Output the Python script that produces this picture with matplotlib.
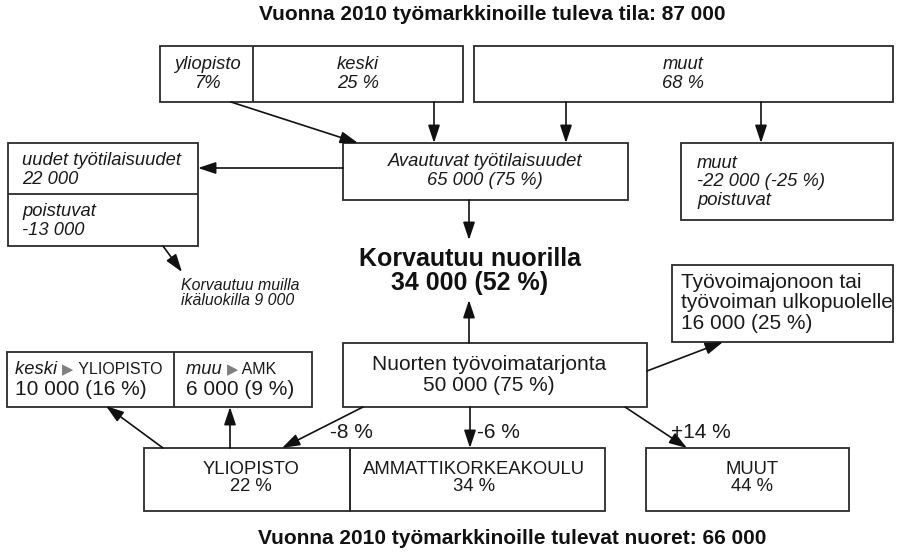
import matplotlib
matplotlib.use("Agg")
import matplotlib.pyplot as plt
from matplotlib.patches import Rectangle

plt.rcParams['font.family'] = ['Liberation Sans', 'DejaVu Sans']

# ---------------- data (texts / values) ----------------
title_top = "Vuonna 2010 työmarkkinoille tuleva tila: 87 000"
title_bottom = "Vuonna 2010 työmarkkinoille tulevat nuoret: 66 000"

top_shares_labels = ["yliopisto", "keski", "muut"]
top_shares_values = ["7%", "25 %", "68 %"]

opening_label = "Avautuvat työtilaisuudet"
opening_value = "65 000 (75 %)"

new_jobs_label = "uudet työtilaisuudet"
new_jobs_value = "22 000"
leaving_label = "poistuvat"
leaving_value = "-13 000"
other_ages = "Korvautuu muilla\nikäluokilla 9 000"

muut_leaving = ["muut", "-22 000 (-25 %)", "poistuvat"]

replaced_young = "Korvautuu nuorilla\n34 000 (52 %)"

queue_text = ["Työvoimajonoon tai", "työvoiman ulkopuolelle", "16 000 (25 %)"]

supply_label = "Nuorten työvoimatarjonta"
supply_value = "50 000 (75 %)"

transfer_from = ["keski", "muu"]
transfer_to = ["YLIOPISTO", "AMK"]
transfer_values = ["10 000 (16 %)", "6 000 (9 %)"]

edu_labels = ["YLIOPISTO", "AMMATTIKORKEAKOULU", "MUUT"]
edu_shares = ["22 %", "34 %", "44 %"]
edu_changes = ["-8 %", "-6 %", "+14 %"]

# ---------------- figure ----------------
W, H = 898, 553
fig = plt.figure(figsize=(W / 100, H / 100), dpi=100)
ax = fig.add_axes([0, 0, 1, 1])
ax.set_xlim(0, W)
ax.set_ylim(H, 0)
ax.axis('off')

EC = '#2b2b2b'
LW = 1.3
TC = '#1a1a1a'


def box(x0, y0, x1, y1):
    ax.add_patch(Rectangle((x0, y0), x1 - x0, y1 - y0, fill=False,
                           ec=EC, lw=LW))


def vline(x, y0, y1):
    ax.plot([x, x], [y0, y1], color=EC, lw=LW, solid_capstyle='butt')


def hline(y, x0, x1):
    ax.plot([x0, x1], [y, y], color=EC, lw=LW, solid_capstyle='butt')


def arrow(x0, y0, x1, y1):
    ax.annotate("", xy=(x1, y1), xytext=(x0, y0),
                arrowprops=dict(arrowstyle='-|>,head_length=0.9,head_width=0.3',
                                color='#111111', lw=1.2,
                                shrinkA=0, shrinkB=0, mutation_scale=12))


# titles
ax.text(492, 14, title_top, ha='center', va='center', fontsize=15,
        fontweight='bold', color='#111111')
ax.text(512, 539, title_bottom, ha='center', va='center', fontsize=15,
        fontweight='bold', color='#111111')

IT = dict(fontsize=13.2, style='italic', color=TC, linespacing=1.08)
RG = dict(fontsize=15, color=TC, linespacing=1.12)

# top boxes
box(160, 46, 463, 102)
vline(253, 46, 102)
box(474, 46, 893, 102)
ax.text(207, 74, top_shares_labels[0] + "\n" + top_shares_values[0],
        ha='center', va='center', **IT)
ax.text(358, 74, top_shares_labels[1] + "\n" + top_shares_values[1],
        ha='center', va='center', **IT)
ax.text(683, 74, top_shares_labels[2] + "\n" + top_shares_values[2],
        ha='center', va='center', **IT)

# arrows from top boxes
arrow(231, 102, 358, 143)
arrow(434, 102, 434, 143)
arrow(566, 102, 566, 143)
arrow(761, 102, 761, 143)

# Avautuvat box
box(343, 143, 628, 200)
ax.text(485, 171, opening_label + "\n" + opening_value,
        ha='center', va='center', **IT)

# left box (new jobs / leaving)
box(8, 143, 198, 246)
hline(194, 8, 198)
arrow(343, 168, 198, 168)
ax.text(22, 170, new_jobs_label + "\n" + new_jobs_value,
        ha='left', va='center', **IT)
ax.text(22, 221, leaving_label + "\n" + leaving_value,
        ha='left', va='center', **IT)
arrow(163, 246, 182, 272)
ax.text(181, 293, other_ages, ha='left', va='center', linespacing=1.05,
        fontsize=11.4, style='italic', color=TC)

# right "muut poistuvat" box
box(681, 143, 893, 220)
ax.text(697, 182, "\n".join(muut_leaving), ha='left', va='center', **IT)

# central result
arrow(469, 200, 469, 240)
ax.text(470, 271, replaced_young, ha='center', va='center', fontsize=18,
        fontweight='bold', linespacing=1.05, color='#111111')
arrow(469, 343, 469, 300)

# queue box
box(672, 265, 893, 342)
ax.text(681, 303, "\n".join(queue_text), ha='left', va='center', **RG)
arrow(647, 371, 723, 342)

# supply box
box(343, 343, 647, 407)
ax.text(489, 375, supply_label + "\n" + supply_value, ha='center',
        va='center', **RG)

# transfer box (lower left)
box(7, 352, 312, 407)
vline(174, 352, 407)
fig.canvas.draw()
renderer = fig.canvas.get_renderer()
inv = ax.transData.inverted()


def rich_line(x, y, parts):
    """parts: list of (text, kwargs); draws consecutive text pieces."""
    cx = x
    for txt, kw in parts:
        t = ax.text(cx, y, txt, ha='left', va='baseline', **kw)
        bb = t.get_window_extent(renderer=renderer)
        (x0, _), (x1, _) = inv.transform([[bb.x0, 0], [bb.x1, 0]])
        cx += (x1 - x0)


SMALL_IT = dict(fontsize=13.2, style='italic', color=TC)
TRI = dict(fontsize=10.5, color='#7f7f7f', family=['DejaVu Sans'])
CAPS = dict(fontsize=11.5, color=TC)
for i, x in enumerate([15, 186]):
    rich_line(x, 374, [(transfer_from[i] + " ", SMALL_IT),
                       ("\u25B6", TRI),
                       (" " + transfer_to[i], CAPS)])
    ax.text(x, 395, transfer_values[i], ha='left', va='baseline',
            fontsize=15, color=TC)

arrow(163, 448, 106, 406)
arrow(230, 448, 230, 407)

# bottom education boxes
box(144, 448, 350, 511)
box(350, 448, 605, 511)
box(646, 448, 849, 511)
SM = dict(fontsize=13.3, color=TC, linespacing=1.0)
ax.text(251, 478, edu_labels[0] + "\n" + edu_shares[0], ha='center',
        va='center', **SM)
ax.text(474, 478, edu_labels[1] + "\n" + edu_shares[1], ha='center',
        va='center', **SM)
ax.text(752, 478, edu_labels[2] + "\n" + edu_shares[2], ha='center',
        va='center', **SM)

arrow(363, 407, 282, 448)
arrow(470, 407, 470, 448)
arrow(625, 407, 687, 448)
ax.text(330, 433, edu_changes[0], ha='left', va='center', **RG)
ax.text(477, 433, edu_changes[1], ha='left', va='center', **RG)
ax.text(671, 433, edu_changes[2], ha='left', va='center', **RG)

fig.savefig("out.png", dpi=100, facecolor='white')
